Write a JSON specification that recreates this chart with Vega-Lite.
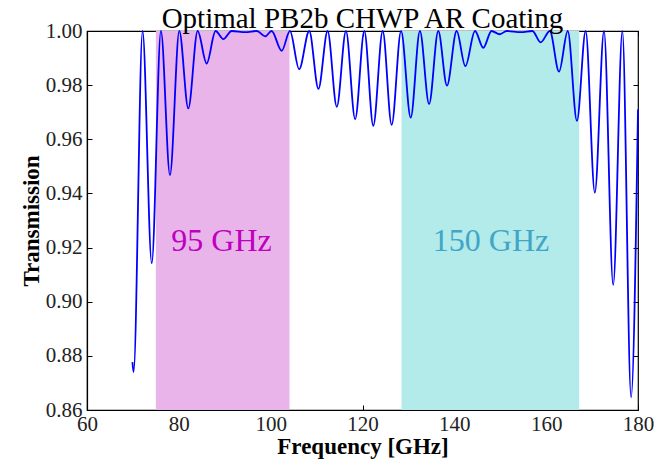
{
  "$schema": "https://vega.github.io/schema/vega-lite/v6.json",
  "width": 551,
  "height": 379,
  "autosize": {"type": "none"},
  "padding": {"left": 87, "top": 31, "right": 28, "bottom": 49},
  "background": "white",
  "config": {
    "view": {"stroke": "black", "strokeWidth": 1.2},
    "font": "Liberation Serif",
    "axis": {
      "grid": false,
      "domainColor": "black",
      "domainWidth": 1.2,
      "tickColor": "black",
      "tickSize": -5,
      "labelColor": "#222222",
      "titleColor": "black",
      "labelFont": "Liberation Serif",
      "titleFont": "Liberation Serif",
      "labelFontSize": 21,
      "titleFontSize": 23,
      "titleFontWeight": "bold"
    }
  },
  "title": {
    "text": "Optimal PB2b CHWP AR Coating",
    "fontSize": 29,
    "font": "Liberation Serif",
    "fontWeight": "normal",
    "color": "black",
    "offset": -14
  },
  "datasets": {
    "bands": [
      {"start": 75, "end": 104.1, "band": "95 GHz"},
      {"start": 128.5, "end": 167.2, "band": "150 GHz"}
    ],
    "labels": [
      {"f": 89.3, "T": 0.9225, "label": "95 GHz"},
      {"f": 148.0, "T": 0.9225, "label": "150 GHz"}
    ],
    "curve": [
      {"f": 69.9, "T": 0.8777},
      {"f": 70.15, "T": 0.874},
      {"f": 72.1, "T": 1.0},
      {"f": 74.1, "T": 0.9142},
      {"f": 76.1, "T": 1.0},
      {"f": 78.07, "T": 0.9468},
      {"f": 80.1, "T": 1.0},
      {"f": 82.06, "T": 0.9714},
      {"f": 84.1, "T": 1.0},
      {"f": 86.06, "T": 0.988},
      {"f": 88.0, "T": 1.0},
      {"f": 89.7, "T": 0.997},
      {"f": 91.5, "T": 1.0},
      {"f": 94.5, "T": 0.9996},
      {"f": 97.0, "T": 1.0},
      {"f": 98.8, "T": 0.998},
      {"f": 100.2, "T": 1.0},
      {"f": 102.4, "T": 0.9927},
      {"f": 104.2, "T": 1.0},
      {"f": 106.2, "T": 0.9859},
      {"f": 108.4, "T": 1.0},
      {"f": 110.4, "T": 0.9786},
      {"f": 112.4, "T": 1.0},
      {"f": 114.4, "T": 0.972},
      {"f": 116.4, "T": 1.0},
      {"f": 118.4, "T": 0.9674},
      {"f": 120.4, "T": 1.0},
      {"f": 122.35, "T": 0.965},
      {"f": 124.4, "T": 1.0},
      {"f": 126.35, "T": 0.9653},
      {"f": 128.4, "T": 1.0},
      {"f": 130.5, "T": 0.968},
      {"f": 132.5, "T": 1.0},
      {"f": 134.5, "T": 0.973},
      {"f": 136.5, "T": 1.0},
      {"f": 138.4, "T": 0.9798},
      {"f": 140.5, "T": 1.0},
      {"f": 142.4, "T": 0.987},
      {"f": 144.5, "T": 1.0},
      {"f": 146.3, "T": 0.9938},
      {"f": 148.1, "T": 1.0},
      {"f": 149.9, "T": 0.9988},
      {"f": 151.4, "T": 1.0},
      {"f": 154.5, "T": 0.9996},
      {"f": 157.0, "T": 1.0},
      {"f": 158.8, "T": 0.9958},
      {"f": 160.8, "T": 1.0},
      {"f": 162.8, "T": 0.985},
      {"f": 164.7, "T": 1.0},
      {"f": 166.7, "T": 0.9668},
      {"f": 168.6, "T": 1.0},
      {"f": 170.6, "T": 0.9403},
      {"f": 172.6, "T": 1.0},
      {"f": 174.6, "T": 0.9062},
      {"f": 176.6, "T": 1.0},
      {"f": 178.5, "T": 0.8647},
      {"f": 180.0, "T": 0.971}
    ]
  },
  "layer": [
    {
      "data": {"name": "bands"},
      "mark": {"type": "rect"},
      "encoding": {
        "x": {
          "field": "start",
          "type": "quantitative",
          "scale": {"domain": [60, 180], "nice": false},
          "axis": {"orient": "top", "labels": false, "title": null, "values": [60, 80, 100, 120, 140, 160, 180], "domain": false}
        },
        "x2": {"field": "end"},
        "color": {
          "field": "band",
          "type": "nominal",
          "scale": {"domain": ["95 GHz", "150 GHz"], "range": ["#e8b4ea", "#b3eaea"]},
          "legend": null
        }
      }
    },
    {
      "data": {"name": "curve"},
      "mark": {"type": "line", "interpolate": "monotone", "color": "#0000ff", "strokeWidth": 1.8},
      "encoding": {
        "x": {
          "field": "f",
          "type": "quantitative",
          "axis": {"orient": "bottom", "title": "Frequency [GHz]", "values": [60, 80, 100, 120, 140, 160, 180], "labelPadding": 8, "titlePadding": 1, "labelFlush": false}
        },
        "y": {
          "field": "T",
          "type": "quantitative",
          "scale": {"domain": [0.86, 1.0], "nice": false, "zero": false},
          "axis": {"orient": "left", "title": "Transmission", "values": [0.86, 0.88, 0.9, 0.92, 0.94, 0.96, 0.98, 1.0], "format": ".2f", "labelPadding": 10, "titlePadding": 2}
        }
      }
    },
    {
      "data": {"name": "labels"},
      "transform": [{"filter": "datum.label === '95 GHz'"}],
      "mark": {"type": "text", "fontSize": 32, "font": "Liberation Serif", "color": "#bf00bf", "align": "center", "baseline": "middle"},
      "encoding": {
        "x": {"field": "f", "type": "quantitative", "axis": null},
        "y": {"field": "T", "type": "quantitative", "axis": {"orient": "right", "labels": false, "title": null, "values": [0.86, 0.88, 0.9, 0.92, 0.94, 0.96, 0.98, 1.0], "domain": false}},
        "text": {"field": "label"}
      }
    },
    {
      "data": {"name": "labels"},
      "transform": [{"filter": "datum.label === '150 GHz'"}],
      "mark": {"type": "text", "fontSize": 32, "font": "Liberation Serif", "color": "#40a6c8", "align": "center", "baseline": "middle"},
      "encoding": {
        "x": {"field": "f", "type": "quantitative", "axis": null},
        "y": {"field": "T", "type": "quantitative", "axis": null},
        "text": {"field": "label"}
      }
    }
  ],
  "resolve": {"axis": {"x": "independent", "y": "independent"}}
}
